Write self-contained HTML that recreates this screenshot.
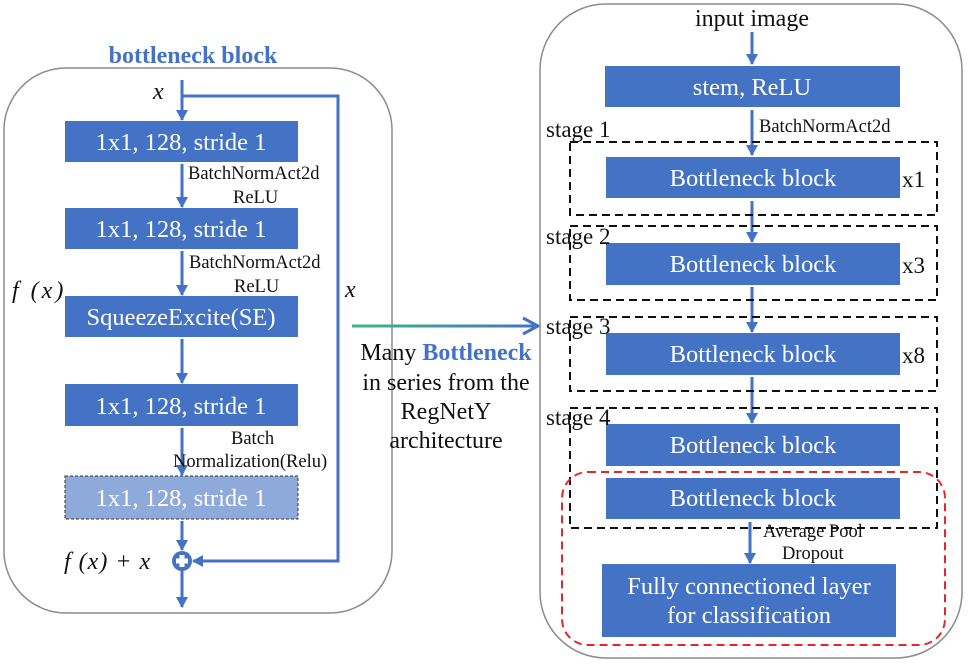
<!DOCTYPE html>
<html><head><meta charset="utf-8"><style>
body{margin:0;background:#fff;}
svg{display:block;}
text{font-family:"Liberation Serif",serif;}
.w{fill:#fff;font-size:24.5px;text-anchor:middle;}
.k{fill:#111;font-size:18.5px;}
.m{font-style:italic;font-size:24px;fill:#111;}
</style></head><body>
<svg width="968" height="664" viewBox="0 0 968 664" xmlns="http://www.w3.org/2000/svg">
<defs>
<marker id="a" markerWidth="12" markerHeight="12" refX="10" refY="6" orient="auto" markerUnits="userSpaceOnUse"><path d="M0,0 L11,6 L0,12 z" fill="#4472c4"/></marker>
<linearGradient id="g" gradientUnits="userSpaceOnUse" x1="352" y1="0" x2="536" y2="0"><stop offset="0" stop-color="#3cba7f"/><stop offset="1" stop-color="#4472c4"/></linearGradient>
</defs>
<!-- left panel -->
<rect x="4" y="68" width="388" height="545" rx="62" fill="none" stroke="#8c8c8c" stroke-width="1.5"/>
<text x="193" y="63" text-anchor="middle" font-size="24" font-weight="bold" fill="#4472c4">bottleneck block</text>
<text x="153" y="99" class="m">x</text>
<g stroke="#4472c4" stroke-width="3" fill="none">
<line x1="182" y1="80" x2="182" y2="120" marker-end="url(#a)"/>
<polyline points="182,96 338,96 338,561 193,561" marker-end="url(#a)"/>
<line x1="182" y1="164" x2="182" y2="207" marker-end="url(#a)"/>
<line x1="182" y1="251" x2="182" y2="295" marker-end="url(#a)"/>
<line x1="182" y1="339" x2="182" y2="383" marker-end="url(#a)"/>
<line x1="182" y1="428" x2="182" y2="475" marker-end="url(#a)"/>
<line x1="182" y1="521" x2="182" y2="550" marker-end="url(#a)"/>
<line x1="182" y1="571" x2="182" y2="607" marker-end="url(#a)"/>
</g>
<circle cx="182" cy="561" r="10" fill="#4472c4"/>
<rect x="179.5" y="555" width="5" height="12" fill="#fff"/>
<rect x="176" y="558.5" width="12" height="5" fill="#fff"/>
<rect x="65" y="121" width="233" height="41" fill="#4472c4"/>
<text x="181" y="150" class="w">1x1, 128, stride 1</text>
<rect x="65" y="208" width="233" height="41" fill="#4472c4"/>
<text x="181" y="237" class="w">1x1, 128, stride 1</text>
<rect x="65" y="296" width="233" height="41" fill="#4472c4"/>
<text x="181" y="325" class="w">SqueezeExcite(SE)</text>
<rect x="65" y="384" width="233" height="42" fill="#4472c4"/>
<text x="181" y="414" class="w">1x1, 128, stride 1</text>
<rect x="65" y="476" width="233" height="43" fill="#8eaadb" stroke="#333" stroke-dasharray="3,2"/>
<text x="181" y="506" class="w">1x1, 128, stride 1</text>
<text x="188" y="179" class="k">BatchNormAct2d</text>
<text x="233" y="203" class="k">ReLU</text>
<text x="189" y="268" class="k">BatchNormAct2d</text>
<text x="234" y="292" class="k">ReLU</text>
<text x="231" y="444" class="k">Batch</text>
<text x="173" y="467" class="k">Normalization(Relu)</text>
<text x="12" y="298" class="m" letter-spacing="3">f (x)</text>
<text x="345" y="297" class="m">x</text>
<text x="64" y="569" class="m" letter-spacing="1">f (x) + x</text>
<!-- middle arrow -->
<line x1="352" y1="326" x2="534" y2="326" stroke="url(#g)" stroke-width="3"/>
<path d="M523,318 L538,326 L523,334" fill="none" stroke="#4472c4" stroke-width="3"/>
<g font-size="24" fill="#111" text-anchor="middle">
<text x="446" y="360">Many <tspan fill="#4472c4" font-weight="bold">Bottleneck</tspan></text>
<text x="446" y="390">in series from the</text>
<text x="446" y="419">RegNetY</text>
<text x="446" y="448">architecture</text>
</g>
<!-- right panel -->
<rect x="540" y="4" width="422" height="654" rx="66" fill="none" stroke="#8c8c8c" stroke-width="1.5"/>
<text x="752" y="26" text-anchor="middle" font-size="24" fill="#111">input image</text>
<g stroke="#4472c4" stroke-width="3" fill="none">
<line x1="752" y1="32" x2="752" y2="64" marker-end="url(#a)"/>
<line x1="752" y1="110" x2="752" y2="155" marker-end="url(#a)"/>
<line x1="752" y1="201" x2="752" y2="242" marker-end="url(#a)"/>
<line x1="752" y1="287" x2="752" y2="332" marker-end="url(#a)"/>
<line x1="752" y1="377" x2="752" y2="423" marker-end="url(#a)"/>
<line x1="750" y1="522" x2="750" y2="563" marker-end="url(#a)"/>
</g>
<g fill="none" stroke="#111" stroke-width="2" stroke-dasharray="8,5">
<rect x="570" y="142" width="367" height="73"/>
<rect x="570" y="226" width="367" height="74"/>
<rect x="570" y="317" width="367" height="74"/>
<rect x="570" y="408" width="367" height="120"/>
</g>
<rect x="562" y="472" width="383" height="173" rx="26" fill="none" stroke="#e8262a" stroke-width="2" stroke-dasharray="8,5"/>
<rect x="605" y="66" width="295" height="41" fill="#4472c4"/>
<text x="752" y="95" class="w">stem, ReLU</text>
<rect x="606" y="157" width="294" height="41" fill="#4472c4"/>
<text x="753" y="186" class="w">Bottleneck block</text>
<rect x="606" y="243" width="294" height="42" fill="#4472c4"/>
<text x="753" y="272" class="w">Bottleneck block</text>
<rect x="606" y="333" width="294" height="42" fill="#4472c4"/>
<text x="753" y="362" class="w">Bottleneck block</text>
<rect x="606" y="424" width="294" height="42" fill="#4472c4"/>
<text x="753" y="453" class="w">Bottleneck block</text>
<rect x="606" y="478" width="294" height="41" fill="#4472c4"/>
<text x="753" y="506" class="w">Bottleneck block</text>
<rect x="602" y="564" width="294" height="73" fill="#4472c4"/>
<text x="749" y="594" class="w">Fully connectioned layer</text>
<text x="749" y="623" class="w">for classification</text>
<g font-size="23" fill="#111">
<text x="546" y="137">stage 1</text>
<text x="546" y="244">stage 2</text>
<text x="546" y="334">stage 3</text>
<text x="546" y="425">stage 4</text>
<text x="902" y="187">x1</text>
<text x="902" y="273">x3</text>
<text x="902" y="363">x8</text>
</g>
<text x="759" y="132" class="k">BatchNormAct2d</text>
<text x="763" y="537" class="k">Average Pool</text>
<text x="782" y="559" class="k">Dropout</text>
</svg>
</body></html>
